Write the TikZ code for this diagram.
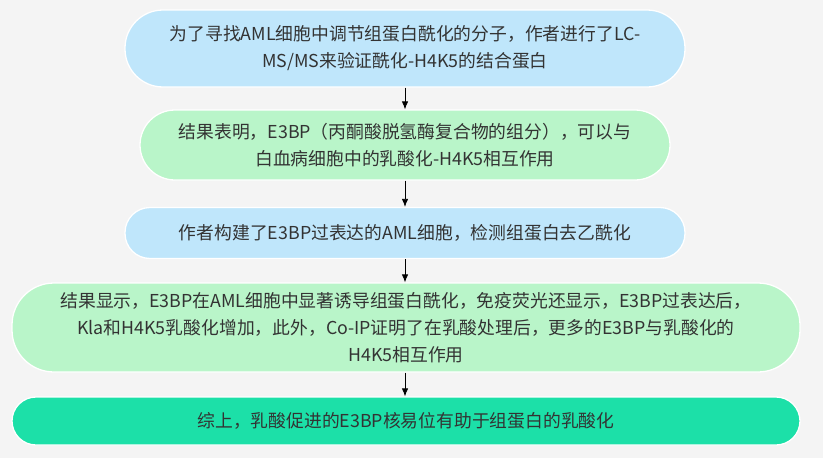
\documentclass[tikz,border=0pt]{standalone}
\usepackage{fontspec}
\newfontfamily\cjk{Noto Sans CJK SC}
\usepackage{xcolor}
\usepackage{tikz}
\usetikzlibrary{arrows.meta, positioning}

\definecolor{pagebg}{HTML}{F4F4F4}
\definecolor{askblue}{HTML}{BFE6FB}
\definecolor{findgreen}{HTML}{B9F5C9}
\definecolor{endteal}{HTML}{1CE0A8}
\definecolor{inktext}{HTML}{333333}

\begin{document}
\begin{tikzpicture}[
  x=1pt, y=1pt,
  font=\cjk\fontsize{17.8}{27}\selectfont,
  stepbox/.style={draw=white, line width=1.3pt, align=center, inner sep=0pt, text=inktext},
  askbox/.style={stepbox, fill=askblue},
  findbox/.style={stepbox, fill=findgreen},
  endbox/.style={stepbox, fill=endteal},
  flow/.style={-{Latex[length=8pt, width=6.5pt]}, line width=0.8pt, black}
]
\fill[pagebg] (0,0) rectangle (823,-458);
\useasboundingbox (0,0) rectangle (823,-458);

\node[askbox, minimum width=560, minimum height=77, rounded corners=38] (search) at (405,-48.5)
  {为了寻找AML细胞中调节组蛋白酰化的分子，作者进行了LC-\\MS/MS来验证酰化-H4K5的结合蛋白};
\node[findbox, minimum width=530, minimum height=70, rounded corners=35] (bind) at (405,-145)
  {结果表明，E3BP（丙酮酸脱氢酶复合物的组分），可以与\\白血病细胞中的乳酸化-H4K5相互作用};
\node[askbox, minimum width=560, minimum height=51, rounded corners=25] (overexp) at (405,-233)
  {作者构建了E3BP过表达的AML细胞，检测组蛋白去乙酰化};
\node[findbox, minimum width=788, minimum height=89, rounded corners=42] (result) at (406,-327.5)
  {结果显示，E3BP在AML细胞中显著诱导组蛋白酰化，免疫荧光还显示，E3BP过表达后，\\Kla和H4K5乳酸化增加，此外，Co-IP证明了在乳酸处理后，更多的E3BP与乳酸化的\\H4K5相互作用};
\node[endbox, minimum width=788, minimum height=48, rounded corners=24] (summary) at (406,-421)
  {综上，乳酸促进的E3BP核易位有助于组蛋白的乳酸化};

\draw[flow] (search.south) -- (search.south |- bind.north);
\draw[flow] (bind.south) -- (bind.south |- overexp.north);
\draw[flow] (overexp.south) -- (overexp.south |- result.north);
\draw[flow] (result.south -| overexp.south) -- (overexp.south |- summary.north);
\end{tikzpicture}
\end{document}
